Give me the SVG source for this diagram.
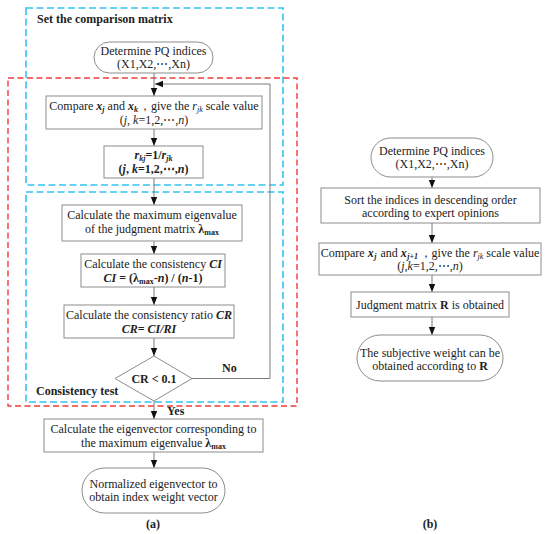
<svg xmlns="http://www.w3.org/2000/svg" width="550" height="534" viewBox="0 0 550 534">
<style>
text{font-family:"Liberation Serif","DejaVu Serif",serif;font-size:12px;fill:#222;}
.c{text-anchor:middle;}
.b{font-weight:bold;}
.i{font-style:italic;}
.s{font-size:8px;}
.box{fill:#fff;stroke:#8c8c8c;stroke-width:1;}
.ln{fill:none;stroke:#7a7a7a;stroke-width:1;}
.cy{fill:none;stroke:#33c3f0;stroke-width:1.6;stroke-dasharray:7 3.5;}
.rd{fill:none;stroke:#f03c3c;stroke-width:1.4;stroke-dasharray:6 3.5;}
</style>
<defs>
<marker id="ah" viewBox="0 0 8 8" refX="8" refY="4" markerWidth="8" markerHeight="8" markerUnits="userSpaceOnUse" orient="auto">
<path d="M0,0.8 L8,4 L0,7.2 Z" fill="#111"/>
</marker>
</defs>
<rect width="550" height="534" fill="#fff"/>

<g id="groups">
<rect class="cy" x="26" y="8" width="257" height="177"/>
<rect class="cy" x="26" y="192" width="257" height="210"/>
<rect class="rd" x="8" y="78" width="289" height="328"/>
<text class="b" x="37" y="23" font-size="10.5">Set the comparison matrix</text>
<text class="b" x="36" y="395" font-size="10.5">Consistency test</text>
</g>

<g id="connectors">
<line class="ln" x1="154" y1="73" x2="154" y2="96" marker-end="url(#ah)"/>
<line class="ln" x1="154" y1="129" x2="154" y2="146" marker-end="url(#ah)"/>
<line class="ln" x1="154" y1="178" x2="154" y2="205" marker-end="url(#ah)"/>
<line class="ln" x1="154" y1="241" x2="154" y2="254" marker-end="url(#ah)"/>
<line class="ln" x1="154" y1="287" x2="154" y2="305" marker-end="url(#ah)"/>
<line class="ln" x1="154" y1="338" x2="154" y2="356" marker-end="url(#ah)"/>
<polyline class="ln" points="192,378.5 270,378.5 270,84 155,84" marker-end="url(#ah)"/>
<line class="ln" x1="154" y1="401" x2="154" y2="419" marker-end="url(#ah)"/>
<line class="ln" x1="154" y1="452" x2="154" y2="468" marker-end="url(#ah)"/>
<line class="ln" x1="432" y1="177" x2="432" y2="188" marker-end="url(#ah)"/>
<line class="ln" x1="432" y1="223" x2="432" y2="243" marker-end="url(#ah)"/>
<line class="ln" x1="432" y1="275" x2="432" y2="292" marker-end="url(#ah)"/>
<line class="ln" x1="432" y1="317" x2="432" y2="335" marker-end="url(#ah)"/>
<text class="b" x="222" y="372">No</text>
<text class="b" x="167" y="415">Yes</text>
</g>

<g id="a-start">
<rect class="box" x="94" y="42" width="119" height="31" rx="15.5"/>
<text class="c" x="153.5" y="55">Determine PQ indices</text>
<text class="c" x="153.5" y="68">(X1,X2,⋯,Xn)</text>
</g>

<g id="a-compare">
<rect class="box" x="46" y="96" width="216" height="33"/>
<text class="c" x="154" y="110">Compare <tspan class="b i">x</tspan><tspan class="b i s" dy="2">j</tspan><tspan dy="-2"> and </tspan><tspan class="b i">x</tspan><tspan class="b i s" dy="2">k</tspan><tspan dy="-2" dx="1">，give the </tspan><tspan class="i">r</tspan><tspan class="i s" dy="2">jk</tspan><tspan dy="-2"> scale value</tspan></text>
<text class="c" x="154" y="124">(<tspan class="i">j</tspan>, <tspan class="i">k</tspan>=1,2,⋯,<tspan class="i">n</tspan>)</text>
</g>

<g id="a-reciprocal">
<rect class="box" x="104" y="146" width="99" height="32"/>
<text class="c b" x="153.5" y="159"><tspan class="i">r</tspan><tspan class="i s" dy="2">kj</tspan><tspan dy="-2">=1/</tspan><tspan class="i">r</tspan><tspan class="i s" dy="2">jk</tspan></text>
<text class="c b" x="153.5" y="173">(<tspan class="i">j</tspan>, <tspan class="i">k</tspan>=1,2,⋯,<tspan class="i">n</tspan>)</text>
</g>

<g id="a-eigenvalue">
<rect class="box" x="62" y="205" width="180" height="36"/>
<text class="c" x="152" y="219">Calculate the maximum eigenvalue</text>
<text class="c" x="152" y="233">of the judgment matrix <tspan class="b">λ</tspan><tspan class="b s" dy="2">max</tspan></text>
</g>

<g id="a-ci">
<rect class="box" x="81" y="254" width="144" height="33"/>
<text class="c" x="153" y="268">Calculate the consistency <tspan class="b i">CI</tspan></text>
<text class="c b" x="153" y="282"><tspan class="i">CI</tspan> = (λ<tspan class="s" dy="2">max</tspan><tspan dy="-2">-</tspan><tspan class="i">n</tspan>) / (<tspan class="i">n</tspan>-1)</text>
</g>

<g id="a-cr">
<rect class="box" x="64" y="305" width="170" height="33"/>
<text class="c" x="149" y="319">Calculate the consistency ratio <tspan class="b i">CR</tspan></text>
<text class="c b i" x="149" y="333">CR= CI/RI</text>
</g>

<g id="a-decision">
<polygon class="box" points="154,356 192,378.5 154,401 115,378.5"/>
<text class="c b" x="154" y="383">CR &lt; 0.1</text>
</g>

<g id="a-eigenvector">
<rect class="box" x="44" y="419" width="219" height="33"/>
<text class="c" x="153.5" y="433">Calculate the eigenvector corresponding to</text>
<text class="c" x="153.5" y="447">the maximum eigenvalue <tspan class="b">λ</tspan><tspan class="b s" dy="2">max</tspan></text>
</g>

<g id="a-end">
<rect class="box" x="82" y="468" width="143" height="45" rx="22.5"/>
<text class="c" x="153.5" y="488">Normalized eigenvector to</text>
<text class="c" x="153.5" y="501">obtain index weight vector</text>
</g>

<text class="c b" x="153" y="528">(a)</text>

<g id="b-start">
<rect class="box" x="371" y="138" width="122" height="39" rx="19.5"/>
<text class="c" x="432" y="155">Determine PQ indices</text>
<text class="c" x="432" y="168">(X1,X2,⋯,Xn)</text>
</g>

<g id="b-sort">
<rect class="box" x="321" y="188" width="219" height="35"/>
<text class="c" x="430.5" y="204">Sort the indices in descending order</text>
<text class="c" x="430.5" y="217">according to expert opinions</text>
</g>

<g id="b-compare">
<rect class="box" x="319" y="243" width="222" height="32"/>
<text class="c" x="430" y="257">Compare <tspan class="b i">x</tspan><tspan class="b i s" dy="2" dx="0.5">j</tspan><tspan dy="-2" dx="1"> and </tspan><tspan class="b i">x</tspan><tspan class="b i s" dy="2" dx="0.5">j+1</tspan><tspan dy="-2" dx="1.5">，give the </tspan><tspan class="i">r</tspan><tspan class="i s" dy="2">jk</tspan><tspan dy="-2"> scale value</tspan></text>
<text class="c" x="430" y="270">(<tspan class="i">j</tspan>,<tspan class="i">k</tspan>=1,2,⋯,<tspan class="i">n</tspan>)</text>
</g>

<g id="b-judgment">
<rect class="box" x="351" y="292" width="158" height="25"/>
<text class="c" x="430" y="309">Judgment matrix <tspan class="b">R</tspan> is obtained</text>
</g>

<g id="b-end">
<rect class="box" x="357" y="335" width="146" height="46" rx="23"/>
<text class="c" x="430" y="357">The subjective weight can be</text>
<text class="c" x="430" y="370">obtained according to <tspan class="b">R</tspan></text>
</g>

<text class="c b" x="430" y="528">(b)</text>
</svg>
